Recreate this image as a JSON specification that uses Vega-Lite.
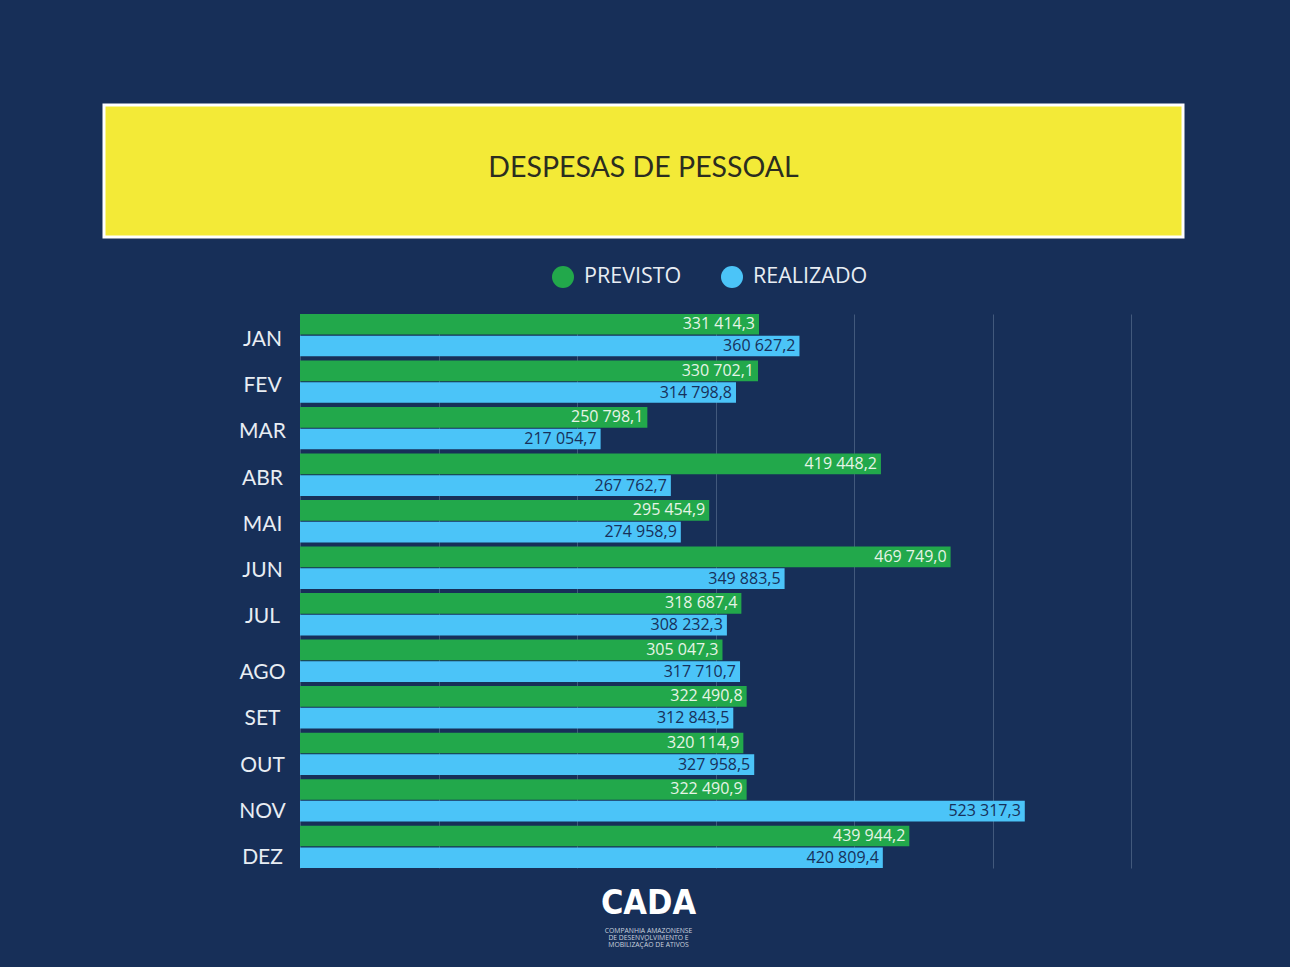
{
  "$schema": "https://vega.github.io/schema/vega-lite/v6.json",
  "background": "#172f58",
  "padding": {"left": 102, "top": 103, "right": 106, "bottom": 16},
  "config": {
    "view": {"stroke": null},
    "font": "Open Sans",
    "locale": {"number": {"decimal": ",", "thousands": " ", "grouping": [3], "currency": ["", ""]}}
  },
  "datasets": {
    "despesas": [
      {"mes": "JAN", "serie": "PREVISTO", "valor": 331414.3},
      {"mes": "JAN", "serie": "REALIZADO", "valor": 360627.2},
      {"mes": "FEV", "serie": "PREVISTO", "valor": 330702.1},
      {"mes": "FEV", "serie": "REALIZADO", "valor": 314798.8},
      {"mes": "MAR", "serie": "PREVISTO", "valor": 250798.1},
      {"mes": "MAR", "serie": "REALIZADO", "valor": 217054.7},
      {"mes": "ABR", "serie": "PREVISTO", "valor": 419448.2},
      {"mes": "ABR", "serie": "REALIZADO", "valor": 267762.7},
      {"mes": "MAI", "serie": "PREVISTO", "valor": 295454.9},
      {"mes": "MAI", "serie": "REALIZADO", "valor": 274958.9},
      {"mes": "JUN", "serie": "PREVISTO", "valor": 469749.0},
      {"mes": "JUN", "serie": "REALIZADO", "valor": 349883.5},
      {"mes": "JUL", "serie": "PREVISTO", "valor": 318687.4},
      {"mes": "JUL", "serie": "REALIZADO", "valor": 308232.3},
      {"mes": "AGO", "serie": "PREVISTO", "valor": 305047.3},
      {"mes": "AGO", "serie": "REALIZADO", "valor": 317710.7},
      {"mes": "SET", "serie": "PREVISTO", "valor": 322490.8},
      {"mes": "SET", "serie": "REALIZADO", "valor": 312843.5},
      {"mes": "OUT", "serie": "PREVISTO", "valor": 320114.9},
      {"mes": "OUT", "serie": "REALIZADO", "valor": 327958.5},
      {"mes": "NOV", "serie": "PREVISTO", "valor": 322490.9},
      {"mes": "NOV", "serie": "REALIZADO", "valor": 523317.3},
      {"mes": "DEZ", "serie": "PREVISTO", "valor": 439944.2},
      {"mes": "DEZ", "serie": "REALIZADO", "valor": 420809.4}
    ]
  },
  "resolve": {"scale": {"color": "independent"}, "legend": {"color": "independent"}},
  "spacing": 2,
  "vconcat": [
    {
      "width": 1079,
      "height": 132,
      "view": {"fill": "#f3ea37", "stroke": "#ffffff", "strokeWidth": 3},
      "data": {"values": [{"titulo": "DESPESAS DE PESSOAL"}]},
      "mark": {"type": "text", "font": "Lato", "fontSize": 28.5, "color": "#2b2d20", "dy": -3.5},
      "encoding": {"text": {"field": "titulo"}}
    },
    {
      "spacing": 0,
      "resolve": {"scale": {"color": "independent"}, "legend": {"color": "independent"}},
      "hconcat": [
        {
          "width": 196,
          "height": 554,
          "data": {"name": "despesas"},
          "transform": [{"filter": "datum.serie === 'PREVISTO'"}],
          "encoding": {
            "y": {
              "field": "mes", "type": "nominal",
              "sort": ["JAN", "FEV", "MAR", "ABR", "MAI", "JUN", "JUL", "AGO", "SET", "OUT", "NOV", "DEZ"],
              "scale": {"domain": ["JAN", "FEV", "MAR", "ABR", "MAI", "JUN", "JUL", "AGO", "SET", "OUT", "NOV", "DEZ"], "paddingInner": 0.09, "paddingOuter": 0},
              "axis": null
            },
            "text": {"field": "mes"}
          },
          "layer": [
            {
              "transform": [{"filter": "indexof(['AGO','SET','OUT','NOV','DEZ'], datum.mes) < 0"}],
              "mark": {"type": "text", "font": "Lato", "fontSize": 21, "color": "#e8edf3", "dx": 60.5, "dy": 3}
            },
            {
              "transform": [{"filter": "indexof(['AGO','SET','OUT','NOV','DEZ'], datum.mes) >= 0"}],
              "mark": {"type": "text", "font": "Lato", "fontSize": 21, "color": "#e8edf3", "dx": 60.5, "dy": 13}
            }
          ]
        },
        {
          "width": 831,
          "height": 554,
          "data": {"name": "despesas"},
          "encoding": {
            "y": {
              "field": "mes", "type": "nominal",
              "sort": ["JAN", "FEV", "MAR", "ABR", "MAI", "JUN", "JUL", "AGO", "SET", "OUT", "NOV", "DEZ"],
              "scale": {"domain": ["JAN", "FEV", "MAR", "ABR", "MAI", "JUN", "JUL", "AGO", "SET", "OUT", "NOV", "DEZ"], "paddingInner": 0.09, "paddingOuter": 0},
              "axis": null
            },
            "yOffset": {"field": "serie", "type": "nominal", "sort": ["PREVISTO", "REALIZADO"], "scale": {"paddingInner": 0.05}},
            "x": {
              "field": "valor", "type": "quantitative",
              "scale": {"domain": [0, 600000], "nice": false},
              "axis": {
                "title": null, "labels": false, "ticks": false, "domain": false,
                "grid": true, "values": [0, 100000, 200000, 300000, 400000, 500000, 600000],
                "gridColor": "#42597c", "gridWidth": 1
              }
            }
          },
          "layer": [
            {
              "mark": {"type": "bar"},
              "encoding": {
                "color": {
                  "field": "serie", "type": "nominal",
                  "scale": {"domain": ["PREVISTO", "REALIZADO"], "range": ["#22a84b", "#4bc4f8"]},
                  "legend": {
                    "title": null, "orient": "none", "legendX": 227, "legendY": -73,
                    "direction": "horizontal", "padding": 25,
                    "symbolType": "circle", "symbolSize": 484, "symbolStrokeWidth": 0, "symbolOpacity": 1,
                    "labelFont": "Open Sans", "labelFontSize": 21.5, "labelColor": "#e8edf3",
                    "labelOffset": 10, "columnPadding": 39, "labelLimit": 300
                  }
                }
              }
            },
            {
              "mark": {"type": "text", "align": "right", "baseline": "middle", "dx": -4, "fontSize": 16, "font": "Open Sans"},
              "encoding": {
                "text": {"field": "valor", "type": "quantitative", "format": ",.1f"},
                "color": {"condition": {"test": "datum.serie === 'PREVISTO'", "value": "#e6f4e6"}, "value": "#17305a"}
              }
            }
          ]
        }
      ]
    },
    {
      "width": 1080,
      "height": 80,
      "layer": [
        {
          "data": {"values": [{"t": "CADA"}]},
          "mark": {"type": "text", "font": "DejaVu Sans Condensed, Liberation Sans Narrow, Roboto Condensed, Roboto, sans-serif", "fontWeight": "bold", "fontSize": 34, "color": "#ffffff", "dx": 4.5, "dy": -7},
          "encoding": {"text": {"field": "t"}}
        },
        {
          "data": {"values": [{"t": "COMPANHIA AMAZONENSE\nDE DESENVOLVIMENTO E\nMOBILIZAÇÃO DE ATIVOS"}]},
          "mark": {"type": "text", "lineBreak": "\n", "fontSize": 6.8, "lineHeight": 7, "color": "#c9d1de", "dx": 4.5, "dy": 20},
          "encoding": {"text": {"field": "t"}}
        }
      ]
    }
  ]
}
